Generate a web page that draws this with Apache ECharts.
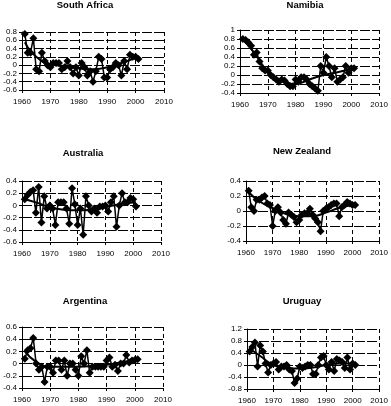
<!DOCTYPE html>
<html><head><meta charset="utf-8">
<script src="https://cdn.jsdelivr.net/npm/echarts@6/dist/echarts.min.js"></script>
<style>html,body{margin:0;padding:0;background:#fff}#c{width:391px;height:406px}</style>
</head><body><div id="c"></div>
<script>
const years = [1961,1962,1963,1964,1965,1966,1967,1968,1969,1970,1971,1972,1973,1974,1975,1976,1977,1978,1979,1980,1981,1982,1983,1984,1985,1986,1987,1988,1989,1990,1991,1992,1993,1994,1995,1996,1997,1998,1999,2000,2001];
const xTicks = [1960,1970,1980,1990,2000,2010];
const countries = ["South Africa","Namibia","Australia","New Zealand","Argentina","Uruguay"];
const southAfrica = [0.75,0.3,0.3,0.65,-0.1,-0.15,0.3,0.1,0.0,-0.05, 0.05,0.05,0.05,-0.1,-0.05,0.1,-0.05,-0.2,-0.05,-0.25, 0.05,-0.05,-0.25,-0.15,-0.4,-0.15,0.2,0.15,-0.3,-0.3, -0.1,-0.05,0.05,0.0,-0.25,0.1,-0.1,0.25,0.2,0.2, 0.15];
const namibia = [0.8,0.78,0.72,0.65,0.45,0.5,0.3,0.15,0.1,0.1, 0.0,-0.05,-0.1,-0.15,-0.1,-0.12,-0.2,-0.25,-0.25,-0.1, -0.15,-0.05,-0.05,-0.1,-0.2,-0.25,-0.3,-0.35,0.2,0.05, 0.4,0.2,-0.05,0.15,-0.15,-0.1,-0.05,0.2,0.05,0.15, 0.15];
const australia = [0.1,0.17,0.22,0.25,-0.12,0.3,-0.28,0.15,-0.05,0.0, -0.05,-0.32,0.05,0.05,0.05,-0.05,-0.3,0.28,0.02,-0.32, -0.05,-0.48,0.15,0.0,-0.1,-0.05,-0.12,-0.02,-0.02,0.0, -0.1,0.05,0.15,-0.35,0.0,0.2,0.05,0.05,0.12,0.1, -0.02];
const newZealand = [0.27,0.05,0.0,0.15,0.15,0.18,0.2,0.1,0.08,-0.2, 0.0,0.05,-0.02,-0.12,-0.17,-0.02,-0.05,-0.08,-0.15,-0.12, -0.05,-0.03,-0.03,0.03,-0.05,-0.1,-0.15,-0.27,0.0,0.03, 0.05,0.08,0.1,0.1,-0.07,0.05,0.08,0.12,0.1,0.08, 0.08];
const argentina = [0.08,0.22,0.25,0.42,0.0,-0.1,-0.05,-0.3,-0.05,-0.05, -0.15,0.05,0.05,-0.1,0.05,-0.2,0.0,0.0,-0.1,-0.2, 0.12,0.0,0.22,-0.15,-0.05,-0.05,-0.05,-0.05,-0.05,0.05, 0.1,-0.05,-0.02,-0.12,0.0,0.0,0.14,0.02,0.05,0.06, 0.07];
const uruguay = [0.45,0.6,0.75,-0.05,0.65,0.45,0.05,-0.25,0.0,0.05, 0.1,-0.15,-0.05,-0.05,0.0,-0.15,-0.2,-0.6,-0.45,-0.05, -0.1,-0.05,0.0,0.0,-0.3,-0.3,0.0,0.25,0.3,0.0, -0.15,0.1,-0.2,0.2,0.15,0.1,-0.1,0.25,-0.15,0.05, 0.0];
const trendYears = [1961,1965,1970,1975,1980,1985,1990,1995,2001];
const trendSouthAfrica = [0.55,0.2,0.02,-0.02,-0.08,-0.1,-0.05,0.05,0.2];
const trendNamibia = [0.8,0.5,0.08,-0.12,-0.2,-0.1,0.0,0.06,0.15];
const trendAustralia = [0.1,0.05,-0.03,-0.07,-0.08,-0.07,-0.03,0.02,0.05];
const trendNewZealand = [0.25,0.13,0.04,-0.04,-0.07,-0.07,-0.02,0.04,0.09];
const trendArgentina = [0.2,0.03,-0.05,-0.05,-0.05,-0.04,-0.02,0.02,0.07];
const trendUruguay = [0.55,0.3,0.0,-0.1,-0.12,-0.08,0.0,0.05,0.05];
const yMin = [-0.6,-0.4,-0.6,-0.4,-0.4,-0.8];
const yMax = [0.8,1,0.4,0.4,0.6,1.2];
const yInt = [0.2,0.2,0.2,0.2,0.2,0.4];

const values = [southAfrica,namibia,australia,newZealand,argentina,uruguay];
const trends = [trendSouthAfrica,trendNamibia,trendAustralia,trendNewZealand,trendArgentina,trendUruguay];
const boxes = [
  {left:22,top:32,width:142,height:58,tx:85,ty:0},
  {left:240,top:30,width:145,height:63,tx:305,ty:0},
  {left:22,top:181,width:139,height:61,tx:83,ty:148},
  {left:246,top:181,width:139,height:60,tx:302,ty:146},
  {left:22,top:327,width:141,height:61,tx:85,ty:296},
  {left:247,top:329,width:136,height:60,tx:302,ty:296}
];
const font = 'Liberation Sans, Arial, sans-serif';
const option = {animation:false,backgroundColor:'#fff',title:[],grid:[],xAxis:[],yAxis:[],series:[]};
boxes.forEach((b,i)=>{
  option.title.push({text:countries[i],left:b.tx,top:b.ty,padding:0,textAlign:'center',textStyle:{fontFamily:font,fontSize:9.5,fontWeight:'bold',color:'#000'}});
  option.grid.push({left:b.left,top:b.top,width:b.width,height:b.height,show:false});
  option.xAxis.push({type:'value',gridIndex:i,min:1960,max:2010,interval:10,
    axisLine:{show:true,onZero:false,lineStyle:{color:'#000',width:1}},
    axisTick:{show:true,length:3,lineStyle:{color:'#000'}},
    axisLabel:{color:'#000',fontFamily:font,fontSize:8,margin:8,formatter:v=>xTicks.includes(v)?String(v):''},
    splitLine:{show:true,lineStyle:{color:'#000',width:1,type:[4,3]}}});
  option.yAxis.push({type:'value',gridIndex:i,min:yMin[i],max:yMax[i],interval:yInt[i],
    axisLine:{show:true,lineStyle:{color:'#000',width:1}},
    axisTick:{show:true,length:3,lineStyle:{color:'#000'}},
    axisLabel:{color:'#000',fontFamily:font,fontSize:8,margin:5,formatter:v=>String(Math.round(v*10)/10)},
    splitLine:{show:true,lineStyle:{color:'#000',width:1,type:[10,2]}}});
  option.series.push({type:'line',xAxisIndex:i,yAxisIndex:i,data:years.map((y,k)=>[y,values[i][k]]),
    symbol:'diamond',symbolSize:8,lineStyle:{color:'#000',width:1.5},itemStyle:{color:'#000'}});
  option.series.push({type:'line',xAxisIndex:i,yAxisIndex:i,data:trendYears.map((y,k)=>[y,trends[i][k]]),
    smooth:true,symbol:'none',lineStyle:{color:'#000',width:2}});
});
echarts.init(document.getElementById('c'),null,{renderer:'canvas'}).setOption(option);
</script></body></html>
